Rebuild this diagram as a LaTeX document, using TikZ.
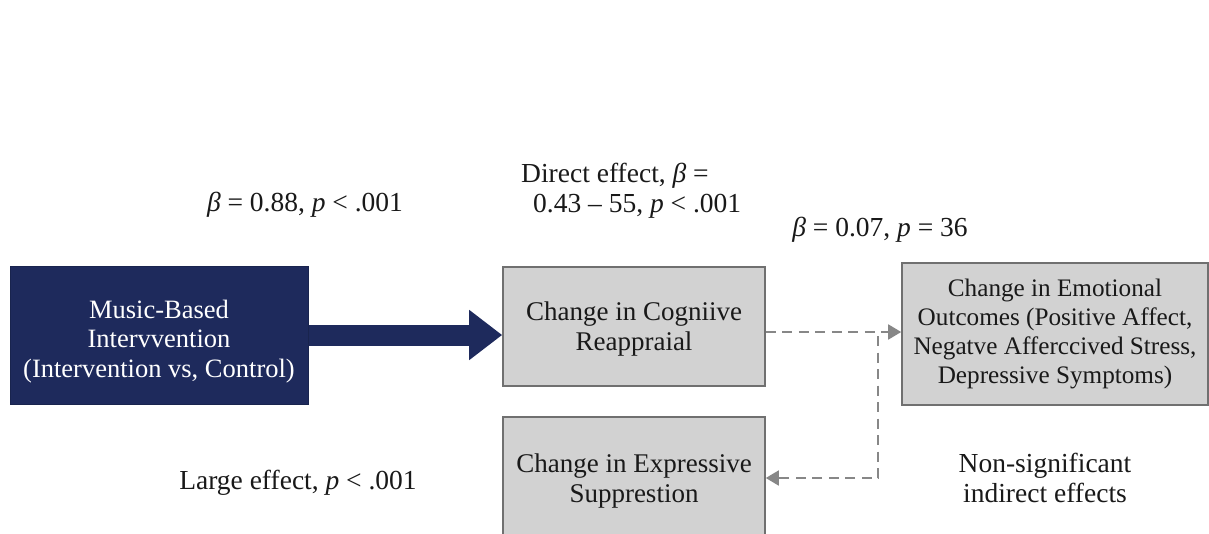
\documentclass[tikz,border=0pt]{standalone}
\usepackage{fontspec}
\setmainfont{Liberation Serif}
\usetikzlibrary{arrows.meta}
\definecolor{navy}{RGB}{30,42,92}
\definecolor{boxgray}{RGB}{210,210,210}
\definecolor{edgegray}{RGB}{112,112,112}
\definecolor{dashgray}{RGB}{135,135,135}
\definecolor{txt}{RGB}{25,25,25}
\begin{document}
\begin{tikzpicture}[x=1pt,y=-1pt,
  every node/.style={font=\fontsize{27.5}{30}\selectfont, inner sep=0pt, text=txt},
  graybox/.style={draw=edgegray, line width=1.6pt, fill=boxgray, align=center, font=\fontsize{27}{30}\selectfont},
  lbl/.style={align=center},
  dashconn/.style={draw=dashgray, line width=1.8pt, dash pattern=on 10pt off 6.5pt},
  gtip/.style={-{Triangle[length=13pt,width=15pt]}, solid}
]
\useasboundingbox (0,0) rectangle (1209,533);
\clip (0,0) rectangle (1209,533);
\fill[white] (0,0) rectangle (1209,533);

% boxes
\node[fill=navy, draw=navy!85!black, line width=1pt, minimum width=298pt, minimum height=138pt,
      text=white, align=center, font=\fontsize{26.5}{29.5}\selectfont] (mb) at (159,335)
  {\rule{0pt}{31pt}Music-Based\\Intervvention\\(Intervention vs, Control)};
\node[graybox, minimum width=262pt, minimum height=119pt] (cog) at (634,326.5)
  {\rule{0pt}{24pt}Change in Cogniive\\Reappraial};
\node[graybox, minimum width=306pt, minimum height=142pt, font=\fontsize{25.2}{29}\selectfont] (emo) at (1055,334)
  {Change in Emotional\\Outcomes (Positive Affect,\\Negatve Afferccived Stress,\\Depressive Symptoms)};
\node[graybox, minimum width=262pt, minimum height=120pt] (exp) at (634,477)
  {\rule{0pt}{26pt}Change in Expressive\\Suppresti\hspace{0pt}on};

% main arrow
\draw[navy, line width=21pt, -{Triangle[length=33pt,width=48pt]}] (mb.east) -- (mb.east -| cog.west);

% dashed connectors
\coordinate (j1) at (878,332);
\coordinate (j2) at (878,478);
\draw[dashconn] (cog.east |- j1) -- ([xshift=-12pt]emo.west |- j1);
\draw[dashgray, gtip, line width=1.8pt] ([xshift=-14pt]emo.west |- j1) -- (emo.west |- j1);
\draw[dashconn] ([yshift=-4pt]j1) -- (j2) -- ([xshift=12pt]exp.east |- j2);
\draw[dashgray, gtip, line width=1.8pt] ([xshift=14pt]exp.east |- j2) -- (exp.east |- j2);

% labels
\node[lbl] (l1) at (305,205) {\textit{β} = 0.88, \textit{p} < .001};
\node[align=left, anchor=west] (l2) at (521,191) {Direct effect, \textit{β} =\\\hspace*{12pt}0.43 – 55, \textit{p} < .001};
\node[lbl] (l3) at (880,230) {\textit{β} = 0.07, \textit{p} = 36};
\node[lbl] (l4) at (298,483) {Large effect, \textit{p} < .001};
\node[lbl] (l5) at (1045,478) {Non-significant\\indirect effects};
\end{tikzpicture}
\end{document}
